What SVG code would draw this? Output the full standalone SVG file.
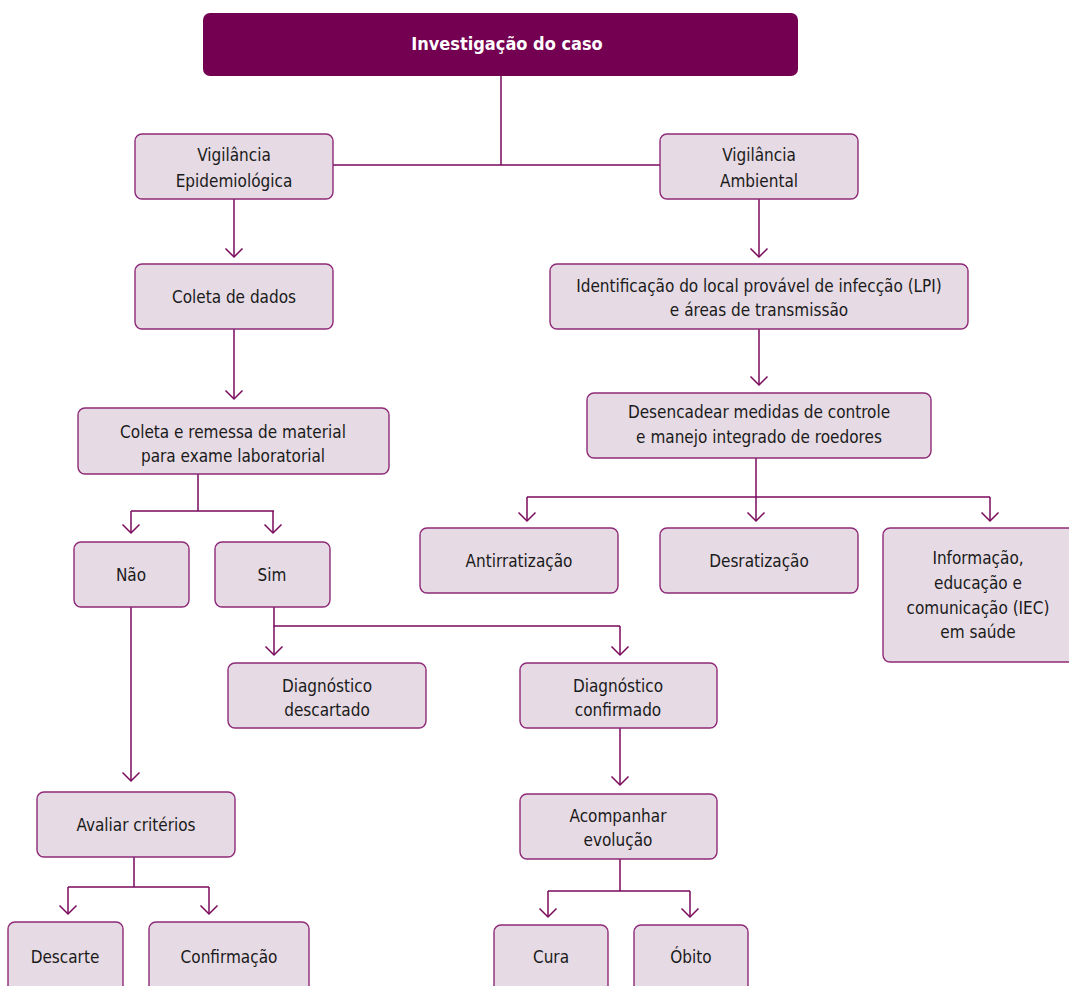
<svg xmlns="http://www.w3.org/2000/svg" width="1069" height="986" viewBox="0 0 1069 986">
  <style>
    .box { fill: #E6DAE4; stroke: #8E2A77; stroke-width: 1.4; }
    .head { fill: #730050; }
    .lbl { font-family: "DejaVu Sans Condensed", "Liberation Sans", sans-serif; font-size: 17px; fill: #1A1A1A; text-anchor: middle; }
    .hlbl { font-family: "DejaVu Sans Condensed", "Liberation Sans", sans-serif; font-size: 18px; font-weight: bold; fill: #FFFFFF; text-anchor: middle; }
    .ln { fill: none; stroke: #7A0A5C; stroke-width: 1.5; }
    .arr { fill: none; stroke: #7A0A5C; stroke-width: 1.5; marker-end: url(#vhead); }
  </style>
  <defs>
    <marker id="vhead" markerUnits="userSpaceOnUse" markerWidth="24" markerHeight="24" viewBox="-12 -12 24 24" refX="0" refY="0" orient="auto">
      <path d="M -8.5 -8.5 L 0 0 L -8.5 8.5" fill="none" stroke="#7A0A5C" stroke-width="1.5"/>
    </marker>
  </defs>

  <rect width="1069" height="986" fill="#FFFFFF"/>

  <!-- connectors -->
  <g id="connectors">
    <path class="ln" d="M501 76 V165 M333 165 H660"/>
    <!-- left branch -->
    <path class="arr" d="M234 199 V257"/>
    <path class="arr" d="M234 329 V399"/>
    <path class="ln" d="M198 474 V511 M131 511 H274"/>
    <path class="arr" d="M131 511 V533"/>
    <path class="arr" d="M273 511 V533"/>
    <path class="arr" d="M131 607 V781"/>
    <path class="ln" d="M134 857 V887 M68 887 H209"/>
    <path class="arr" d="M68 887 V914"/>
    <path class="arr" d="M209 887 V914"/>
    <path class="ln" d="M274 607 V626 H620"/>
    <path class="arr" d="M274 626 V655"/>
    <path class="arr" d="M620 626 V655"/>
    <path class="arr" d="M620 728 V785"/>
    <path class="ln" d="M620 859 V891 M548 891 H690"/>
    <path class="arr" d="M548 891 V917"/>
    <path class="arr" d="M690 891 V917"/>
    <!-- right branch -->
    <path class="arr" d="M759 199 V257"/>
    <path class="arr" d="M759 329 V385"/>
    <path class="arr" d="M756 458 V521"/>
    <path class="ln" d="M527 497 H990"/>
    <path class="arr" d="M527 497 V521"/>
    <path class="arr" d="M990 497 V521"/>
  </g>

  <g id="investigacao">
    <rect class="head" x="203" y="13" width="595" height="63" rx="7"/>
    <text class="hlbl" x="507" y="50">Investigação do caso</text>
  </g>

  <g id="vig-epi">
    <rect class="box" x="135" y="134" width="198" height="65" rx="7"/>
    <text class="lbl" x="234" y="161">Vigilância</text>
    <text class="lbl" x="234" y="187">Epidemiológica</text>
  </g>

  <g id="vig-amb">
    <rect class="box" x="660" y="134" width="198" height="65" rx="7"/>
    <text class="lbl" x="759" y="161">Vigilância</text>
    <text class="lbl" x="759" y="187">Ambiental</text>
  </g>

  <g id="coleta-dados">
    <rect class="box" x="135" y="264" width="198" height="65" rx="7"/>
    <text class="lbl" x="234" y="303">Coleta de dados</text>
  </g>

  <g id="coleta-remessa">
    <rect class="box" x="78" y="408" width="311" height="66" rx="7"/>
    <text class="lbl" x="233" y="438">Coleta e remessa de material</text>
    <text class="lbl" x="233" y="462">para exame laboratorial</text>
  </g>

  <g id="nao">
    <rect class="box" x="74" y="542" width="115" height="65" rx="7"/>
    <text class="lbl" x="131" y="581">Não</text>
  </g>

  <g id="sim">
    <rect class="box" x="215" y="542" width="115" height="65" rx="7"/>
    <text class="lbl" x="272" y="581">Sim</text>
  </g>

  <g id="diag-descartado">
    <rect class="box" x="228" y="663" width="198" height="65" rx="7"/>
    <text class="lbl" x="327" y="692">Diagnóstico</text>
    <text class="lbl" x="327" y="716">descartado</text>
  </g>

  <g id="diag-confirmado">
    <rect class="box" x="520" y="663" width="197" height="65" rx="7"/>
    <text class="lbl" x="618" y="692">Diagnóstico</text>
    <text class="lbl" x="618" y="716">confirmado</text>
  </g>

  <g id="avaliar">
    <rect class="box" x="37" y="792" width="198" height="65" rx="7"/>
    <text class="lbl" x="136" y="831">Avaliar critérios</text>
  </g>

  <g id="acompanhar">
    <rect class="box" x="520" y="794" width="197" height="65" rx="7"/>
    <text class="lbl" x="618" y="822">Acompanhar</text>
    <text class="lbl" x="618" y="846">evolução</text>
  </g>

  <g id="descarte">
    <rect class="box" x="8" y="922" width="115" height="80" rx="7"/>
    <text class="lbl" x="65" y="963">Descarte</text>
  </g>

  <g id="confirmacao">
    <rect class="box" x="149" y="922" width="160" height="80" rx="7"/>
    <text class="lbl" x="229" y="963">Confirmação</text>
  </g>

  <g id="cura">
    <rect class="box" x="494" y="925" width="114" height="80" rx="7"/>
    <text class="lbl" x="551" y="963">Cura</text>
  </g>

  <g id="obito">
    <rect class="box" x="634" y="925" width="114" height="80" rx="7"/>
    <text class="lbl" x="691" y="963">Óbito</text>
  </g>

  <g id="identificacao">
    <rect class="box" x="550" y="264" width="418" height="65" rx="7"/>
    <text class="lbl" x="759" y="292">Identificação do local provável de infecção (LPI)</text>
    <text class="lbl" x="759" y="316">e áreas de transmissão</text>
  </g>

  <g id="desencadear">
    <rect class="box" x="587" y="393" width="344" height="65" rx="7"/>
    <text class="lbl" x="759" y="418">Desencadear medidas de controle</text>
    <text class="lbl" x="759" y="443">e manejo integrado de roedores</text>
  </g>

  <g id="antirratizacao">
    <rect class="box" x="420" y="528" width="198" height="65" rx="7"/>
    <text class="lbl" x="519" y="567">Antirratização</text>
  </g>

  <g id="desratizacao">
    <rect class="box" x="660" y="528" width="198" height="65" rx="7"/>
    <text class="lbl" x="759" y="567">Desratização</text>
  </g>

  <g id="iec">
    <rect class="box" x="883" y="528" width="200" height="134" rx="7"/>
    <text class="lbl" x="978" y="564">Informação,</text>
    <text class="lbl" x="978" y="589">educação e</text>
    <text class="lbl" x="978" y="614">comunicação (IEC)</text>
    <text class="lbl" x="978" y="638">em saúde</text>
  </g>
</svg>
